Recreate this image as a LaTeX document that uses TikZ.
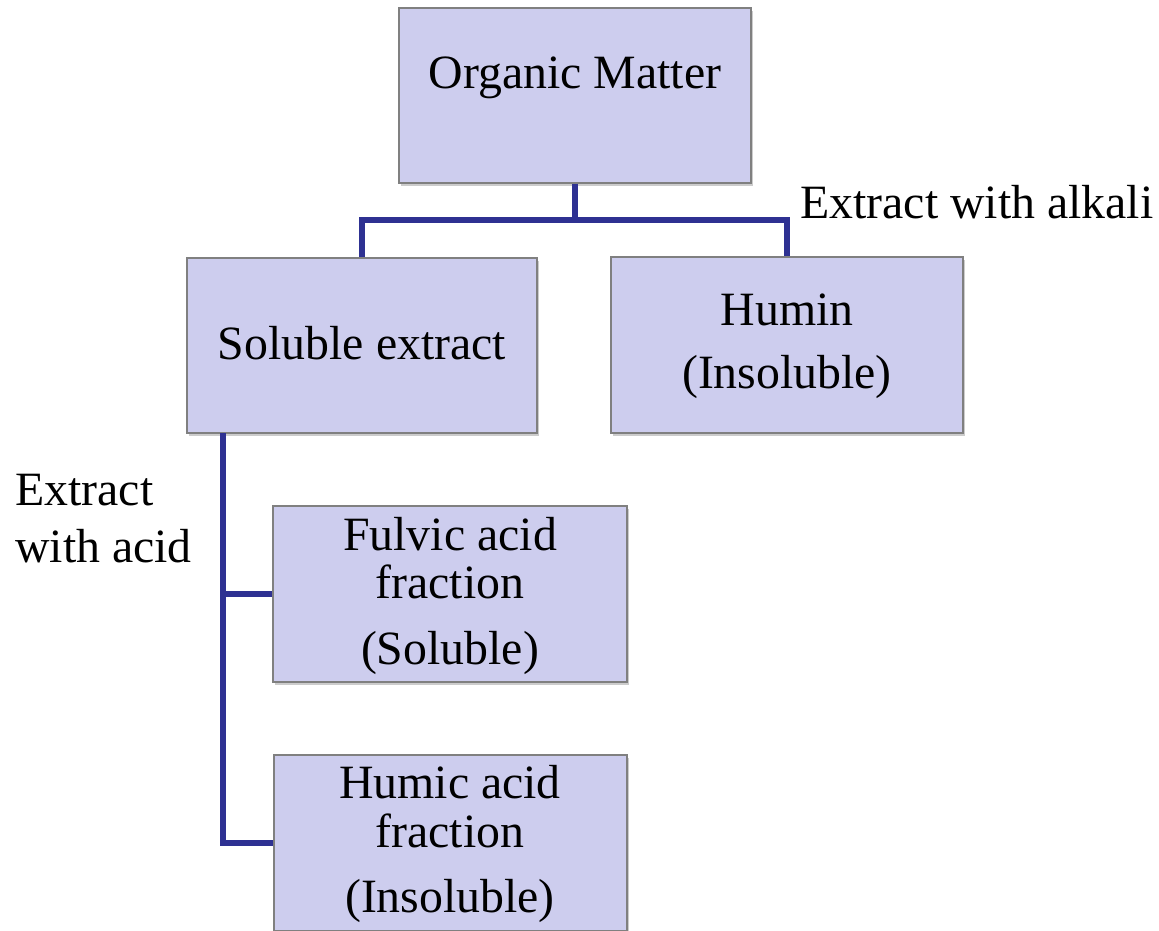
\documentclass[tikz,border=0pt]{standalone}
\usepackage{fontspec}
\setmainfont{Liberation Serif}
\usetikzlibrary{shadows}
\definecolor{boxfill}{RGB}{205,205,238}
\definecolor{boxline}{RGB}{128,128,128}
\definecolor{linkblue}{RGB}{46,49,146}
\tikzset{
  fraction box/.style={draw=boxline, line width=1pt, fill=boxfill, inner sep=0pt,
    drop shadow={shadow xshift=1.5pt, shadow yshift=-2.2pt, opacity=0.4}},
  box text/.style={anchor=base, inner sep=0pt, font=\fontsize{34}{41}\selectfont},
  side text/.style={anchor=base west, inner sep=0pt, font=\fontsize{34}{41}\selectfont},
  link/.style={draw=linkblue, line width=3.8pt}
}
\begin{document}
\begin{tikzpicture}[x=0.025cm, y=-0.025cm]
  \useasboundingbox (0,0) rectangle (1159,930);

  % boxes
  \node[fraction box, minimum width=352*0.025cm, minimum height=175*0.025cm] (om) at (575,95.5) {};
  \node[fraction box, minimum width=350*0.025cm, minimum height=175*0.025cm] (se) at (362,345.5) {};
  \node[fraction box, minimum width=352*0.025cm, minimum height=176*0.025cm] (hu) at (787,345) {};
  \node[fraction box, minimum width=354*0.025cm, minimum height=176*0.025cm] (ff) at (450,594) {};
  \node[fraction box, minimum width=353*0.025cm, minimum height=176*0.025cm] (hf) at (450.5,843) {};

  % texts
  \node[box text] (omtext) at (575,88) {Organic Matter};
  \node[box text] (setext) at (362,359) {Soluble extract};
  \node[box text] (hutext1) at (787,325) {Humin};
  \node[box text] (hutext2) at (787,388) {(Insoluble)};
  \node[box text] (fftext1) at (450,550) {Fulvic acid};
  \node[box text] (fftext2) at (450,598) {fraction};
  \node[box text] (fftext3) at (450,664) {(Soluble)};
  \node[box text] (hftext1) at (450,798) {Humic acid};
  \node[box text] (hftext2) at (450,847) {fraction};
  \node[box text] (hftext3) at (450,912) {(Insoluble)};

  \node[side text] (alkali) at (800,218) {Extract with alkali};
  \node[side text] (acid1) at (15,505) {Extract};
  \node[side text] (acid2) at (15,562) {with acid};

  % connectors
  \coordinate (split) at (575,220);
  \coordinate (trunk) at (223,433);
  \draw[link] (om.south) -- (split) -| (se.north);
  \draw[link] (split) -| (hu.north);
  \draw[link] (trunk) |- (hf.west);
  \draw[link] (trunk |- ff.west) -- (ff.west);
\end{tikzpicture}
\end{document}
